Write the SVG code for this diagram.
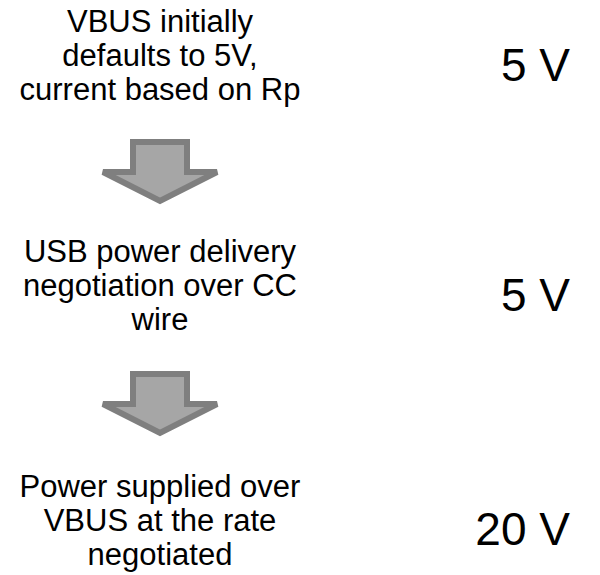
<svg xmlns="http://www.w3.org/2000/svg" width="600" height="575" viewBox="0 0 600 575">
<style>
.t{font-family:"Liberation Sans",Arial,sans-serif;font-size:31px;fill:#000;text-anchor:middle}
.v{font-family:"Liberation Sans",Arial,sans-serif;font-size:46px;fill:#000;text-anchor:end}
.arrow{fill:#a6a6a6;stroke:#7f7f7f;stroke-width:6;stroke-linejoin:miter}
</style>
<rect width="600" height="575" fill="#fff"/>
<g id="step1">
<text class="t" x="160" y="32">VBUS initially</text>
<text class="t" x="160" y="66">defaults to 5V,</text>
<text class="t" x="160" y="100">current based on Rp</text>
</g>
<g id="volt1"><text class="v" x="570" y="81">5 V</text></g>
<g id="step2">
<text class="t" x="160" y="262">USB power delivery</text>
<text class="t" x="160" y="296">negotiation over CC</text>
<text class="t" x="160" y="330">wire</text>
</g>
<g id="volt2"><text class="v" x="570" y="311">5 V</text></g>
<g id="step3">
<text class="t" x="160" y="497">Power supplied over</text>
<text class="t" x="160" y="531">VBUS at the rate</text>
<text class="t" x="160" y="565">negotiated</text>
</g>
<g id="volt3"><text class="v" x="570" y="545">20 V</text></g>
<g id="connectors">
<polygon class="arrow" points="133,142 187,142 187,172 217,172 160,201 103,172 133,172"/>
<polygon class="arrow" points="133,374 187,374 187,404 217,404 160,433 103,404 133,404"/>
</g>
</svg>
